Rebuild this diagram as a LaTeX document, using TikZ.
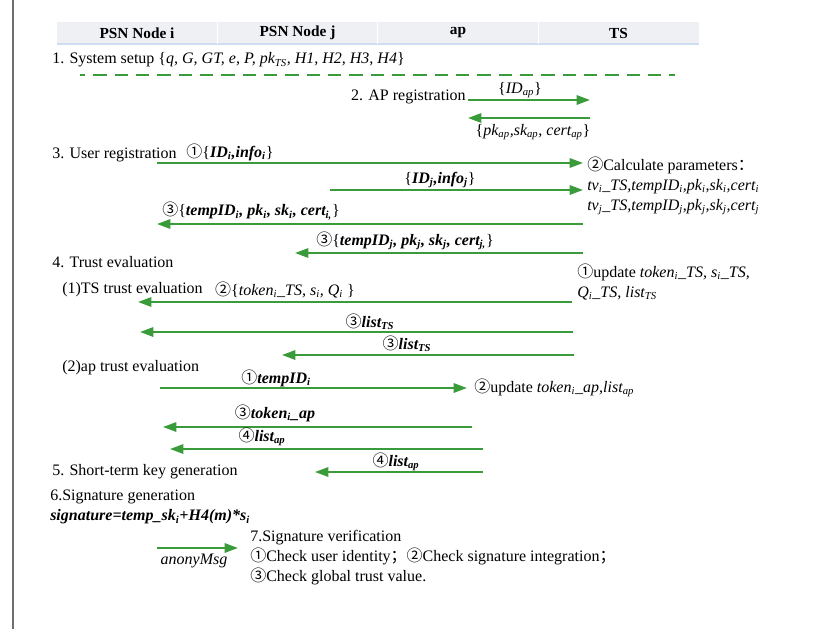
\documentclass[tikz,border=0pt]{standalone}
\usepackage{fontspec}
\setmainfont{Liberation Serif}
\newfontfamily\cjk{Noto Sans CJK SC}
\usetikzlibrary{arrows.meta, positioning}
\definecolor{msgGreen}{RGB}{58, 155, 58}
\definecolor{headFill}{RGB}{238, 240, 243}
\definecolor{headShade}{RGB}{205, 222, 240}
\definecolor{frameGray}{RGB}{110, 110, 110}
\newcommand{\circnum}[1]{{\cjk #1}}
\newcommand{\sbi}[1]{\textsubscript{#1}}
\newcommand{\bfit}[1]{\textbf{\textit{#1}}}
\tikzset{
    lane_head/.style={
        fill=headFill,
        minimum width=120pt,
        minimum height=16.5pt,
        inner sep=0pt,
        font=\fontsize{11.5}{13}\selectfont\bfseries
    },
    stage_text/.style={
        anchor=west,
        inner sep=0pt,
        align=left
    },
    msg_label/.style={
        inner sep=0pt
    },
    msg_edge/.style={
        -{Triangle[length=10pt,width=7pt]},
        line width=1.5pt,
        draw=msgGreen
    },
    setup_dash/.style={
        line width=1.5pt,
        draw=msgGreen,
        dash pattern=on 10pt off 6pt,
        dash phase=6pt
    }
}
\begin{document}
\begin{tikzpicture}[x=0.75pt, y=-0.75pt,
    font=\fontsize{12}{15}\selectfont]
    \useasboundingbox (0,0) rectangle (820,629);
    \draw[frameGray, line width=1pt] (13,0) -- (13,629);

    % header
    \node[lane_head] (nodei) at (137,33) {PSN Node i};
    \node[lane_head, right=0pt of nodei] (nodej) {PSN Node j};
    \node[lane_head, right=0pt of nodej] (ap) {ap};
    \node[lane_head, right=0pt of ap] (ts) {TS};
    \draw[headShade, line width=1.2pt] (nodei.south west) -- (ts.south east);
    \foreach \n in {nodei, nodej, ap}
        \draw[white, line width=0.6pt] (\n.north east) -- (\n.south east);

    % 1. system setup
    \node[stage_text] (setup) at (52,60)
        {1. System setup \{\textit{q, G, GT, e, P, pk\sbi{TS}, H1, H2, H3, H4}\}};
    \coordinate (dashL) at (80,75);
    \coordinate (dashR) at (675,75);
    \draw[setup_dash] (dashL) -- (dashR);

    % 2. AP registration
    \node[stage_text, anchor=east] (apreg) at (466,97) {2. AP registration};
    \coordinate (apregL) at (468,100);
    \coordinate (apregR) at (590,100);
    \coordinate (apkeyL) at (468,118);
    \coordinate (apkeyR) at (590,118);
    \draw[msg_edge] (apregL) -- (apregR);
    \draw[msg_edge] (apkeyR) -- (apkeyL);
    \node[msg_label] (idap) at (520,90) {\{\textit{ID\sbi{ap}}\}};
    \node[msg_label] (apkeys) at (533,132)
        {\{\textit{pk\sbi{ap},sk\sbi{ap}, cert\sbi{ap}}\}};

    % 3. user registration
    \node[stage_text] (userreg) at (52,155) {3. User registration};
    \coordinate (ureqiL) at (157,163);
    \coordinate (ureqiR) at (583,163);
    \coordinate (ureqjL) at (330,190);
    \coordinate (ureqjR) at (583,190);
    \coordinate (urespiL) at (157,224);
    \coordinate (urespiR) at (583,224);
    \coordinate (urespjL) at (295,253);
    \coordinate (urespjR) at (583,253);
    \draw[msg_edge] (ureqiL) -- (ureqiR);
    \draw[msg_edge] (ureqjL) -- (ureqjR);
    \draw[msg_edge] (urespiR) -- (urespiL);
    \draw[msg_edge] (urespjR) -- (urespjL);
    \node[msg_label] (ureqi) at (230,152)
        {\circnum{①}\{\bfit{ID\sbi{i},info\sbi{i}}\}};
    \node[msg_label] (ureqj) at (440,180)
        {\{\bfit{ID\sbi{j},info\sbi{j}}\}};
    \node[stage_text] (calc) at (587,186)
        {\circnum{②}Calculate parameters\circnum{：}\\
         \textit{tv\sbi{i}\_TS,tempID\sbi{i},pk\sbi{i},sk\sbi{i},cert\sbi{i}}\\
         \textit{tv\sbi{j}\_TS,tempID\sbi{j},pk\sbi{j},sk\sbi{j},cert\sbi{j}}};
    \node[msg_label] (urespi) at (251,211)
        {\circnum{③}\{\bfit{tempID\sbi{i}, pk\sbi{i}, sk\sbi{i}, cert\sbi{i,}}\}};
    \node[msg_label] (urespj) at (405,241)
        {\circnum{③}\{\bfit{tempID\sbi{j}, pk\sbi{j}, sk\sbi{j}, cert\sbi{j,}}\}};

    % 4. trust evaluation
    \node[stage_text] (trust) at (52,262) {4. Trust evaluation};
    \node[stage_text] (tsupd) at (577,282)
        {\circnum{①}update \textit{token\sbi{i}\_TS, s\sbi{i}\_TS,}\\
         \textit{Q\sbi{i}\_TS, list\sbi{TS}}};
    \node[stage_text] (tseval) at (62,290) {(1)TS trust evaluation};
    \coordinate (tokiL) at (138,302);
    \coordinate (tokiR) at (572,302);
    \coordinate (lstiL) at (140,332);
    \coordinate (lstiR) at (573,332);
    \coordinate (lstjL) at (282,355);
    \coordinate (lstjR) at (574,355);
    \draw[msg_edge] (tokiR) -- (tokiL);
    \draw[msg_edge] (lstiR) -- (lstiL);
    \draw[msg_edge] (lstjR) -- (lstjL);
    \node[msg_label] (toki) at (285,290)
        {\circnum{②}\{\textit{token\sbi{i}\_TS, s\sbi{i}, Q\sbi{i}} \}};
    \node[msg_label] (lsti) at (370,322)
        {\circnum{③}\bfit{list\sbi{TS}}};
    \node[msg_label] (lstj) at (407,344)
        {\circnum{③}\bfit{list\sbi{TS}}};

    \node[stage_text] (apeval) at (62,368) {(2)ap trust evaluation};
    \coordinate (tidL) at (160,388);
    \coordinate (tidR) at (467,388);
    \coordinate (aptokL) at (163,427);
    \coordinate (aptokR) at (472,427);
    \coordinate (aplstiL) at (170,449);
    \coordinate (aplstiR) at (483,449);
    \coordinate (aplstjL) at (315,472);
    \coordinate (aplstjR) at (483,472);
    \draw[msg_edge] (tidL) -- (tidR);
    \draw[msg_edge] (aptokR) -- (aptokL);
    \draw[msg_edge] (aplstiR) -- (aplstiL);
    \draw[msg_edge] (aplstjR) -- (aplstjL);
    \node[msg_label] (tid) at (276,378)
        {\circnum{①}\bfit{tempID\sbi{i}}};
    \node[stage_text] (apupd) at (474,388)
        {\circnum{②}update \textit{token\sbi{i}\_ap,list\sbi{ap}}};
    \node[msg_label] (aptok) at (275,413)
        {\circnum{③}\bfit{token\sbi{i}\_ap}};
    \node[msg_label] (aplsti) at (262,437)
        {\circnum{④}\bfit{list\sbi{ap}}};
    \node[msg_label] (aplstj) at (396,462)
        {\circnum{④}\bfit{list\sbi{ap}}};

    % 5.--7.
    \node[stage_text] (keygen) at (52,472) {5. Short-term key generation};
    \node[stage_text] (siggen) at (50,497) {6.Signature generation};
    \node[stage_text] (sigform) at (50,517)
        {\bfit{signature=temp\_sk\sbi{i}+H4(m)*s\sbi{i}}};
    \coordinate (msgL) at (157,548);
    \coordinate (msgR) at (238,548);
    \draw[msg_edge] (msgL) -- (msgR);
    \node[msg_label] (anony) at (194,561) {\textit{anonyMsg}};
    \node[stage_text] (sigver) at (250,558)
        {7.Signature verification\\
         \circnum{①}Check user identity\circnum{；}\circnum{②}Check signature integration\circnum{；}\\
         \circnum{③}Check global trust value.};
\end{tikzpicture}
\end{document}
